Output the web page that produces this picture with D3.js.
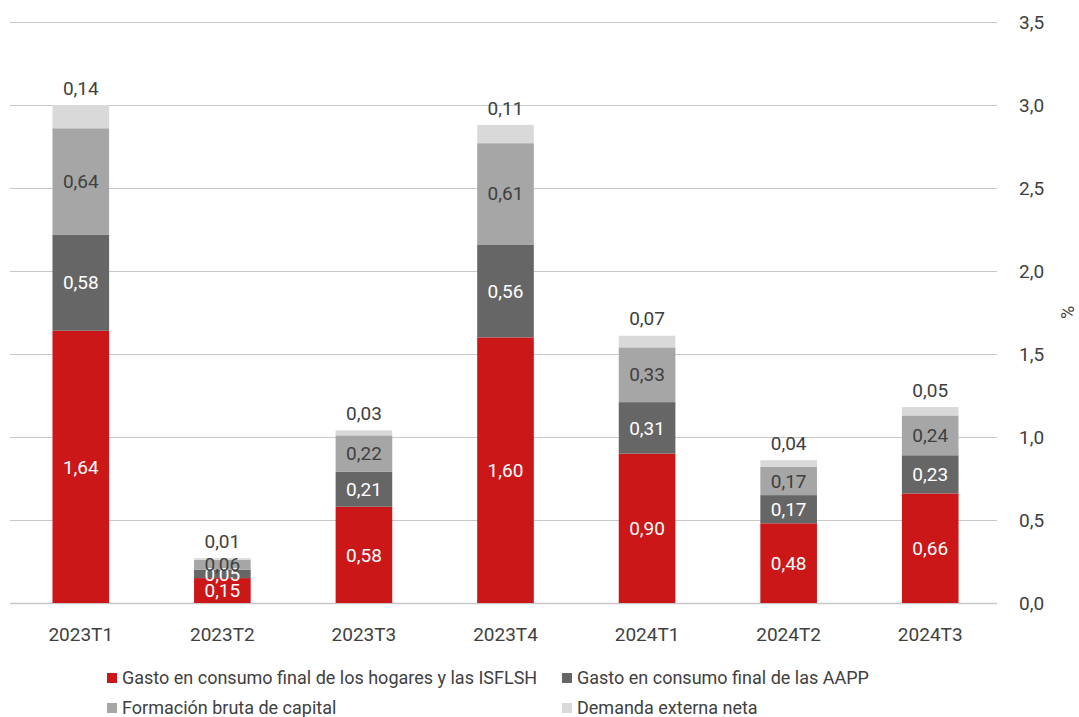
<!DOCTYPE html>
<html>
<head>
<meta charset="utf-8">
<script src="https://cdn.jsdelivr.net/npm/d3@7"></script>
<style>
  body { margin: 0; background: #fff; }
  svg { display: block; font-family: Roboto, "Liberation Sans", sans-serif; }
</style>
</head>
<body>
<div id="chart"></div>
<script>
const quarters = ['2023T1', '2023T2', '2023T3', '2023T4', '2024T1', '2024T2', '2024T3'];
const seriesNames = [
  'Gasto en consumo final de los hogares y las ISFLSH',
  'Gasto en consumo final de las AAPP',
  'Formación bruta de capital',
  'Demanda externa neta'
];
const hogares = [1.64, 0.15, 0.58, 1.60, 0.90, 0.48, 0.66];
const aapp = [0.58, 0.05, 0.21, 0.56, 0.31, 0.17, 0.23];
const fbc = [0.64, 0.06, 0.22, 0.61, 0.33, 0.17, 0.24];
const demanda = [0.14, 0.01, 0.03, 0.11, 0.07, 0.04, 0.05];
const yTicks = [0, 0.5, 1, 1.5, 2, 2.5, 3, 3.5];

const colors = ['#cc1719', '#666666', '#a6a6a6', '#d9d9d9'];
const labelColors = ['#ffffff', '#ffffff', '#404040', '#404040'];
const textColor = '#404040';
const gridColor = '#c8c8c8';

const width = 1079, height = 717;
const fmt = v => d3.format('.2f')(v).replace('.', ',');
const fmtTick = v => d3.format('.1f')(v).replace('.', ',');

const svg = d3.select('#chart').append('svg')
  .attr('width', width)
  .attr('height', height);

const xScale = d3.scaleBand()
  .domain(quarters)
  .range([10, 1001])
  .paddingInner(0.6)
  .paddingOuter(0.3);

const yScale = d3.scaleLinear()
  .domain([0, 3.5])
  .range([603, 22]);

// grid
svg.append('g')
  .selectAll('line')
  .data(yTicks)
  .join('line')
  .attr('x1', 10)
  .attr('x2', 997)
  .attr('y1', d => Math.round(yScale(d)) + 0.5)
  .attr('y2', d => Math.round(yScale(d)) + 0.5)
  .attr('stroke', gridColor)
  .attr('stroke-width', d => d === 0 ? 1.5 : 1);

// y axis labels on the right
svg.append('g')
  .selectAll('text')
  .data(yTicks)
  .join('text')
  .attr('x', 1019)
  .attr('y', d => yScale(d))
  .attr('dy', '0.35em')
  .attr('fill', textColor)
  .style('font-size', '19px')
  .text(fmtTick);

svg.append('text')
  .attr('transform', `translate(1068, ${yScale(1.75)}) rotate(-90)`)
  .attr('text-anchor', 'middle')
  .attr('dy', '0.35em')
  .attr('fill', textColor)
  .style('font-size', '18px')
  .text('%');

// stacked bars
const rows = quarters.map((q, i) => ({
  q, v0: hogares[i], v1: aapp[i], v2: fbc[i], v3: demanda[i]
}));
const stack = d3.stack().keys(['v0', 'v1', 'v2', 'v3']);
const layers = stack(rows);

const layerG = svg.append('g')
  .selectAll('g')
  .data(layers)
  .join('g')
  .attr('fill', (d, i) => colors[i]);

layerG.selectAll('rect')
  .data(d => d)
  .join('rect')
  .attr('x', d => xScale(d.data.q))
  .attr('width', xScale.bandwidth())
  .attr('y', d => yScale(d[1]))
  .attr('height', d => yScale(d[0]) - yScale(d[1]));

// labels inside the first three segments
layers.slice(0, 3).forEach((layer, li) => {
  svg.append('g')
    .selectAll('text')
    .data(layer)
    .join('text')
    .attr('x', d => xScale(d.data.q) + xScale.bandwidth() / 2)
    .attr('y', d => yScale((d[0] + d[1]) / 2))
    .attr('dy', '0.35em')
    .attr('text-anchor', 'middle')
    .attr('fill', labelColors[li])
    .style('font-size', '19px')
    .text(d => fmt(d[1] - d[0]));
});

// label above the bar for demanda externa
svg.append('g')
  .selectAll('text')
  .data(layers[3])
  .join('text')
  .attr('x', d => xScale(d.data.q) + xScale.bandwidth() / 2)
  .attr('y', d => yScale(d[1]) - 17)
  .attr('dy', '0.35em')
  .attr('text-anchor', 'middle')
  .attr('fill', textColor)
  .style('font-size', '19px')
  .text(d => fmt(d[1] - d[0]));

// x axis labels
svg.append('g')
  .selectAll('text')
  .data(quarters)
  .join('text')
  .attr('x', d => xScale(d) + xScale.bandwidth() / 2)
  .attr('y', 634)
  .attr('dy', '0.35em')
  .attr('text-anchor', 'middle')
  .attr('fill', textColor)
  .style('font-size', '19px')
  .text(d => d);

// legend
const legendPos = [[107, 678], [562, 678], [107, 708], [562, 708]];
const legend = svg.append('g')
  .selectAll('g')
  .data(seriesNames)
  .join('g')
  .attr('transform', (d, i) => `translate(${legendPos[i][0]}, ${legendPos[i][1]})`);

legend.append('rect')
  .attr('x', 0)
  .attr('y', -5)
  .attr('width', 10)
  .attr('height', 10)
  .attr('fill', (d, i) => colors[i]);

legend.append('text')
  .attr('x', 15)
  .attr('dy', '0.35em')
  .attr('fill', textColor)
  .style('font-size', '18px')
  .text(d => d);
</script>
</body>
</html>
